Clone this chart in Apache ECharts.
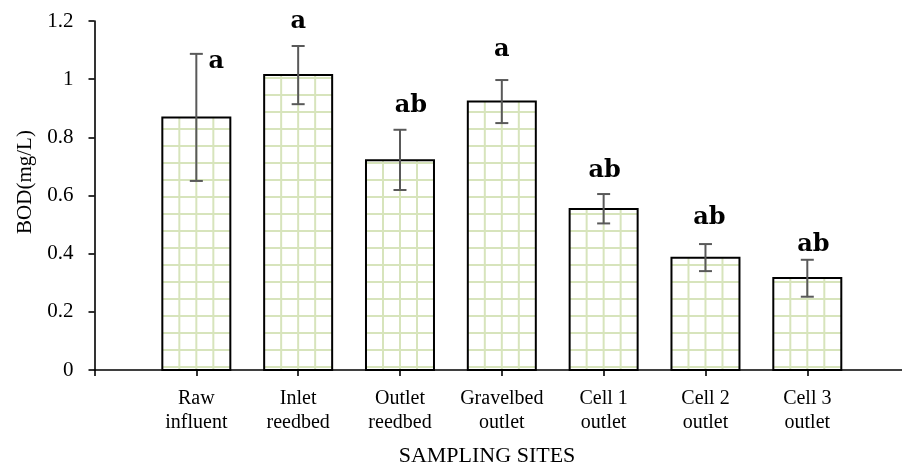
<!DOCTYPE html>
<html>
<head>
<meta charset="utf-8">
<style>
html,body{margin:0;padding:0;background:#fff;}
#chart{width:902px;height:468px;}
</style>
<script src="https://cdn.jsdelivr.net/npm/echarts@6/dist/echarts.min.js"></script>
</head>
<body>
<div id="chart"></div>
<script>
// ---- data ----
const categories = ['Raw\ninfluent', 'Inlet\nreedbed', 'Outlet\nreedbed', 'Gravelbed\noutlet', 'Cell 1\noutlet', 'Cell 2\noutlet', 'Cell 3\noutlet'];
const bodMean = [0.868, 1.014, 0.721, 0.923, 0.554, 0.386, 0.316];
const errUpper = [1.087, 1.114, 0.826, 0.997, 0.605, 0.433, 0.379];
const errLower = [0.650, 0.914, 0.619, 0.849, 0.504, 0.340, 0.252];
const letters = ['a', 'a', 'ab', 'a', 'ab', 'ab', 'ab'];
const letterY = [1.061, 1.197, 0.907, 1.100, 0.685, 0.523, 0.431];
const letterDx = [20, 0, 11, 0, 1, 4, 6];
const yTicks = [0, 0.2, 0.4, 0.6, 0.8, 1, 1.2];

const chart = echarts.init(document.getElementById('chart'));
const serif = '"Liberation Serif", "Times New Roman", serif';

const barData = bodMean.map((v, i) => [i + 1, v]);
const errData = bodMean.map((v, i) => [i + 1, errLower[i], errUpper[i]]);
const letterData = letters.map((t, i) => [i + 1, letterY[i], i]);

const option = {
  animation: false,
  backgroundColor: '#fff',
  grid: { left: 94.5, top: 21, right: 0, height: 349, containLabel: false },
  xAxis: {
    type: 'value', min: 0, max: 7.93, interval: 1,
    axisLine: { show: true, lineStyle: { color: '#000', width: 1.6 } },
    axisTick: { show: true, length: 6, lineStyle: { color: '#000', width: 1.6 } },
    splitLine: { show: false },
    axisLabel: {
      margin: 17, color: '#000', fontFamily: serif, fontSize: 20, lineHeight: 24,
      showMaxLabel: false,
      formatter: v => (Number.isInteger(v) && v >= 1 && v <= categories.length) ? categories[v - 1] : ''
    }
  },
  yAxis: {
    type: 'value', min: yTicks[0], max: yTicks[yTicks.length - 1], interval: 0.2,
    axisLine: { show: true, lineStyle: { color: '#000', width: 1.6 } },
    axisTick: { show: true, length: 6, lineStyle: { color: '#000', width: 1.6 } },
    splitLine: { show: false },
    axisLabel: { margin: 21, color: '#000', fontFamily: serif, fontSize: 21 }
  },
  graphic: [
    { type: 'text', x: 25, y: 182, rotation: Math.PI / 2,
      style: { text: 'BOD(mg/L)', font: '21px ' + serif, fill: '#000',
               align: 'center', verticalAlign: 'middle', textAlign: 'center', textVerticalAlign: 'middle' } },
    { type: 'text', x: 487, y: 456,
      style: { text: 'SAMPLING SITES', font: '22px ' + serif, fill: '#000',
               align: 'center', verticalAlign: 'middle', textAlign: 'center', textVerticalAlign: 'middle' } }
  ],
  series: [
    {
      type: 'custom', data: barData, clip: false, z: 2,
      renderItem: function (params, api) {
        const x = api.value(0), v = api.value(1);
        const base = api.coord([x, 0]);
        const top = api.coord([x, v]);
        const w = 68, cell = 17;
        const left = base[0] - w / 2;
        const children = [{
          type: 'rect', shape: { x: left, y: top[1], width: w, height: base[1] - top[1] },
          style: { fill: '#fff' }
        }];
        for (let j = 1; j < 4; j++) {
          const lx = left + cell * j;
          children.push({ type: 'line', shape: { x1: lx, y1: top[1], x2: lx, y2: base[1] },
            style: { stroke: '#d7e4bc', lineWidth: 2 } });
        }
        for (let yy = base[1] - 3; yy > top[1] + 1; yy -= cell) {
          children.push({ type: 'line', shape: { x1: left, y1: yy, x2: left + w, y2: yy },
            style: { stroke: '#d7e4bc', lineWidth: 2 } });
        }
        children.push({
          type: 'rect', shape: { x: left, y: top[1], width: w, height: base[1] - top[1] },
          style: { fill: null, stroke: '#000', lineWidth: 2 }
        });
        return { type: 'group', children: children };
      }
    },
    {
      type: 'custom', data: errData, clip: false, z: 3,
      renderItem: function (params, api) {
        const x = api.value(0);
        const lo = api.coord([x, api.value(1)]);
        const hi = api.coord([x, api.value(2)]);
        const cap = 6.5;
        const st = { stroke: '#595959', lineWidth: 2 };
        return { type: 'group', children: [
          { type: 'line', shape: { x1: lo[0], y1: lo[1], x2: hi[0], y2: hi[1] }, style: st },
          { type: 'line', shape: { x1: hi[0] - cap, y1: hi[1], x2: hi[0] + cap, y2: hi[1] }, style: st },
          { type: 'line', shape: { x1: lo[0] - cap, y1: lo[1], x2: lo[0] + cap, y2: lo[1] }, style: st }
        ] };
      }
    },
    {
      type: 'custom', data: letterData, clip: false, z: 4,
      renderItem: function (params, api) {
        const i = api.value(2);
        const p = api.coord([api.value(0), api.value(1)]);
        return { type: 'text', x: p[0] + letterDx[i], y: p[1],
          style: { text: letters[i], font: 'bold 24px "DejaVu Serif", serif', fill: '#000',
                   align: 'center', verticalAlign: 'middle', textAlign: 'center', textVerticalAlign: 'middle' } };
      }
    }
  ]
};
chart.setOption(option);
</script>
</body>
</html>
